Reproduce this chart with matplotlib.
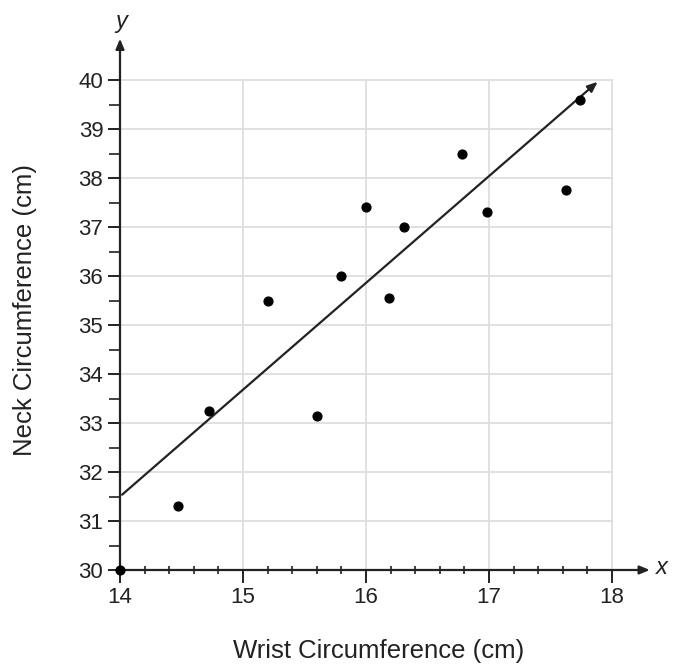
import matplotlib
matplotlib.use("Agg")
import matplotlib.pyplot as plt
import numpy as np

plt.rcParams['font.family'] = ['Liberation Sans', 'DejaVu Sans']

wrist = [14.47, 14.72, 15.2, 15.6, 15.8, 16.0, 16.19, 16.31, 16.78, 16.98, 17.63, 17.74]
neck = [31.3, 33.25, 35.5, 33.15, 36.0, 37.4, 35.55, 37.0, 38.5, 37.3, 37.75, 39.6]
line_x = [14.0, 17.9]
line_y = [31.5, 40.0]
x_ticks = [14, 15, 16, 17, 18]
y_ticks = [30, 31, 32, 33, 34, 35, 36, 37, 38, 39, 40]

W, H = 673, 668
fig = plt.figure(figsize=(W / 100, H / 100), dpi=100)
x0, y0 = 120, 570
pxx, pxy = 123.0, 49.0
ax = fig.add_axes([x0 / W, (H - y0) / H, (W - x0) / W, y0 / H])
ax.set_xlim(14, 14 + (W - x0) / pxx)
ax.set_ylim(30, 30 + y0 / pxy)
ax.patch.set_alpha(0)

for s in ax.spines.values():
    s.set_visible(False)

# grid
for yv in y_ticks[1:]:
    ax.plot([14, 18], [yv, yv], color='#dcdcdc', lw=1.2, zorder=1, clip_on=False)
for xv in x_ticks[1:]:
    ax.plot([xv, xv], [30, 40], color='#dcdcdc', lw=1.2, zorder=1, clip_on=False)

# axes with arrows
arrow = dict(arrowstyle='-|>,head_length=0.6,head_width=0.25', color='#222222', lw=1.6)
ax.annotate('', xy=(18.33, 30), xytext=(14, 30), arrowprops=arrow,
            annotation_clip=False, zorder=3)
ax.annotate('', xy=(14, 40.9), xytext=(14, 30), arrowprops=arrow,
            annotation_clip=False, zorder=3)
ax.text(18.36, 30.05, 'x', fontsize=17, style='italic', va='center', ha='left', color='#222222')
ax.text(13.96, 40.95, 'y', fontsize=17, style='italic', va='bottom', ha='left', color='#222222')

# ticks
ax.set_xticks(x_ticks)
ax.set_yticks(y_ticks)
ax.set_xticks([t for t in np.arange(14.2, 18.01, 0.2) if abs(t - round(t)) > 0.01], minor=True)
ax.set_yticks([t for t in np.arange(30.5, 40.01, 0.5) if abs(t - round(t)) > 0.01], minor=True)
ax.tick_params(axis='x', which='major', direction='out', length=9, width=1.4, labelsize=16, pad=3, color='#222222', labelcolor='#222222')
ax.tick_params(axis='x', which='minor', direction='inout', length=6, width=1.2, color='#222222')
ax.tick_params(axis='y', which='major', direction='out', length=8.5, width=1.4, labelsize=16, pad=3.5, color='#222222', labelcolor='#222222')
ax.tick_params(axis='y', which='minor', direction='out', length=8, width=1.2, color='#222222')

# trend line with arrow
ax.annotate('', xy=(line_x[1], line_y[1]), xytext=(line_x[0], line_y[0]), arrowprops=arrow,
            annotation_clip=False, zorder=4)

ax.scatter(wrist, neck, s=40, color='black', zorder=5)
ax.scatter([14], [30], s=40, color='black', zorder=5, clip_on=False)

fig.text(379 / W, 1 - 651 / H, 'Wrist Circumference (cm)', fontsize=18.5,
         ha='center', va='center', color='#222222')
fig.text(25 / W, 1 - 310 / H, 'Neck Circumference (cm)', fontsize=18.5,
         ha='center', va='center', rotation=90, color='#222222')

fig.savefig('out.png', dpi=100, facecolor='white')
